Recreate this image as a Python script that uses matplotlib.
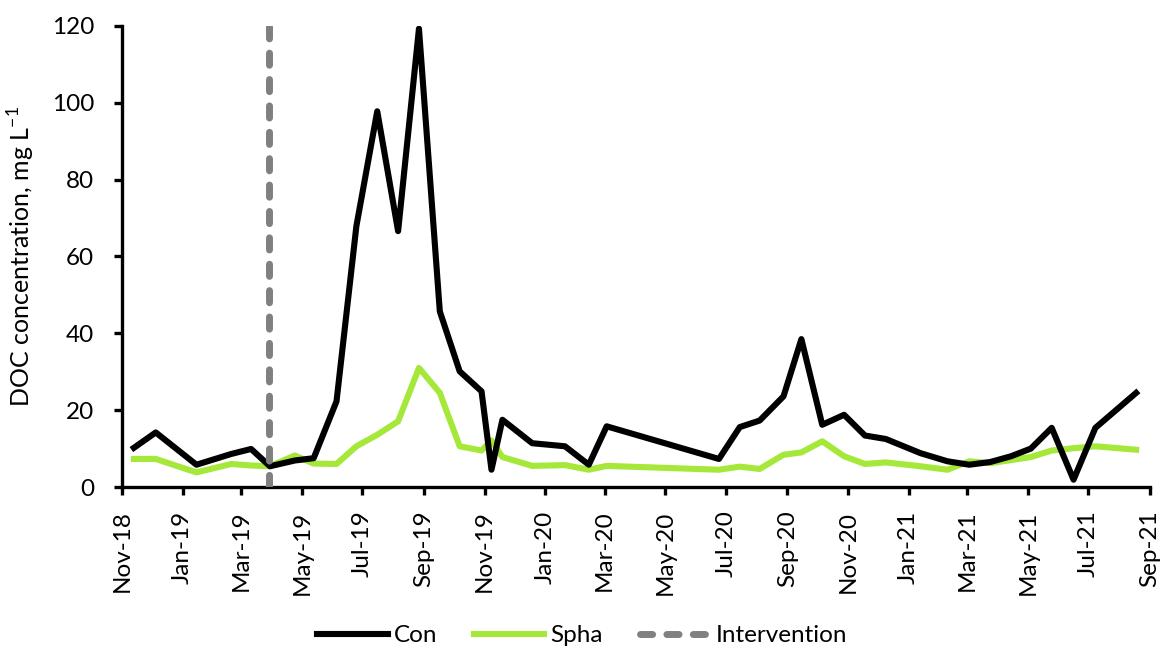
import matplotlib
matplotlib.use("Agg")
import matplotlib.pyplot as plt
import matplotlib.dates as mdates
import numpy as np
import pandas as pd

plt.rcParams['font.family'] = ['Lato', 'DejaVu Sans']

dates = pd.to_datetime([
    "2018-11-13", "2018-12-05", "2019-01-15", "2019-02-19", "2019-03-11", "2019-03-30",
    "2019-04-24", "2019-05-13", "2019-06-05", "2019-06-25", "2019-07-16", "2019-08-06",
    "2019-08-27", "2019-09-17", "2019-10-07", "2019-10-29", "2019-11-08", "2019-11-19",
    "2019-12-19", "2020-01-21", "2020-02-14", "2020-03-03", "2020-06-24", "2020-07-15",
    "2020-08-04", "2020-08-28", "2020-09-15", "2020-10-06", "2020-10-28", "2020-11-18",
    "2020-12-09", "2021-01-13", "2021-02-09", "2021-03-03", "2021-03-24", "2021-04-14",
    "2021-05-04", "2021-05-25", "2021-06-16", "2021-07-08", "2021-08-18",
])
con = [10.2, 14.2, 5.8, 8.6, 9.9, 5.4,
       6.9, 7.5, 22.3, 67.9, 97.8, 66.6,
       119.3, 45.7, 30.1, 24.9, 4.5, 17.5,
       11.4, 10.6, 5.8, 15.8, 7.3, 15.6,
       17.3, 23.6, 38.5, 16.2, 18.8, 13.4,
       12.5, 8.8, 6.7, 5.8, 6.5, 8.0,
       10.0, 15.4, 1.9, 15.4, 24.5]
spha = [7.3, 7.3, 3.8, 6.0, 5.6, 5.4,
        8.2, 6.1, 6.0, 10.6, 13.6, 17.1,
        31.0, 24.5, 10.6, 9.5, 12.1, 7.8,
        5.5, 5.7, 4.5, 5.5, 4.5, 5.3,
        4.7, 8.4, 9.0, 11.9, 8.0, 6.0,
        6.4, 5.4, 4.5, 6.7, 6.2, 7.0,
        7.8, 9.5, 10.1, 10.6, 9.7]
intervention_dates = pd.to_datetime(["2019-03-29", "2019-03-29"])
intervention_vals = [0, 120]

fig = plt.figure(figsize=(11.66, 6.49), dpi=100)
ax = fig.add_axes([0.1046, 0.2496, 0.8817, 0.7104])

ax.plot(dates, con, color='black', lw=4.4, label='Con', zorder=3)
ax.plot(dates, spha, color='#a5e83a', lw=4.4, label='Spha', zorder=2)
ax.plot(intervention_dates, intervention_vals, color='#808080', lw=5.0,
        ls=(0, (1.75, 2.05)), dash_capstyle='round', label='Intervention', zorder=4)

ax.set_xlim(pd.Timestamp("2018-11-01"), pd.Timestamp("2021-09-01"))
ax.set_ylim(0, 120)
ax.set_yticks(np.arange(0, 121, 20))
ax.xaxis.set_major_locator(mdates.MonthLocator(bymonth=[1, 3, 5, 7, 9, 11]))
ax.xaxis.set_major_formatter(mdates.DateFormatter('%b-%y'))
for lab in ax.get_xticklabels():
    lab.set_rotation(90)

ax.spines['top'].set_visible(False)
ax.spines['right'].set_visible(False)
for s in ['left', 'bottom']:
    ax.spines[s].set_linewidth(2.4)
ax.tick_params(axis='both', direction='out', length=6, width=2.4, labelsize=17.5, colors='black')
ax.tick_params(axis='y', pad=14)
ax.tick_params(axis='x', pad=11)

ax.set_ylabel('DOC concentration, mg L$^{\\mathregular{-1}}$', fontsize=18, labelpad=10)
ax.yaxis.set_label_coords(-0.083, 0.5)

ax.legend(loc='center', bbox_to_anchor=(0.448, -0.323), ncol=3, frameon=False,
          fontsize=17.5, handlelength=2.9, columnspacing=1.5, handletextpad=0.25,
          borderpad=0)

fig.savefig('out.png', dpi=100)
